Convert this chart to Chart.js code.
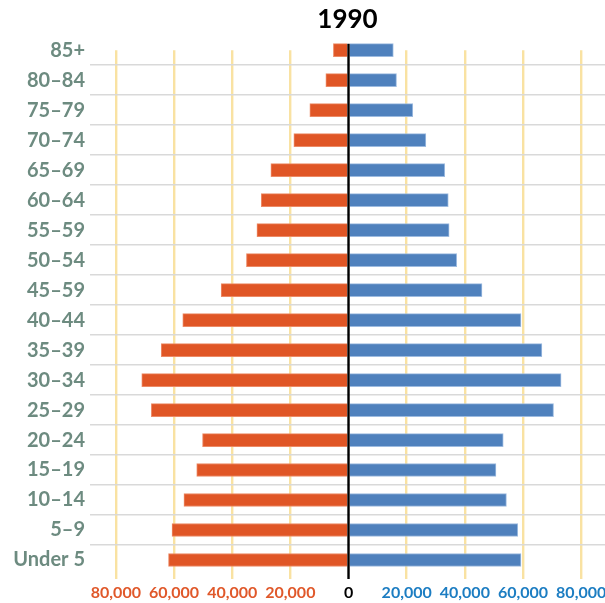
<!DOCTYPE html>
<html>
<head>
<meta charset="utf-8">
<script src="https://cdn.jsdelivr.net/npm/chart.js@4/dist/chart.umd.min.js"></script>
<style>
html,body{margin:0;padding:0;background:#fff;overflow:hidden;}
canvas{display:block;}
</style>
</head>
<body>
<canvas id="c" width="605" height="603"></canvas>
<script>
const title = "1990";
const ageGroups = ["85+","80–84","75–79","70–74","65–69","60–64","55–59","50–54","45–59","40–44","35–39","30–34","25–29","20–24","15–19","10–14","5–9","Under 5"];
const males   = [-5200,-7800,-13300,-18800,-26700,-30000,-31500,-35100,-43800,-57000,-64400,-71100,-67800,-50200,-52200,-56600,-60700,-61900];
const females = [15400,16500,22100,26600,33100,34300,34600,37200,45900,59300,66500,73100,70500,53200,50700,54300,58200,59300];
const xTicks = [-80000,-60000,-40000,-20000,0,20000,40000,60000,80000];
const xMin = -88900, xMax = 88200;

const BAR = 13;
const zeroLine = {
  id: 'zeroLine',
  afterDatasetsDraw(chart) {
    const xs = chart.scales.x, ys = chart.scales.y;
    const x = xs.getPixelForValue(0);
    const top = ys.getPixelForValue(0) - BAR / 2;
    const bottom = ys.bottom + 19;
    const ctx = chart.ctx;
    ctx.save();
    ctx.strokeStyle = '#000';
    ctx.lineWidth = 2.4;
    ctx.beginPath();
    ctx.moveTo(x, top);
    ctx.lineTo(x, bottom);
    ctx.stroke();
    ctx.restore();
  }
};

new Chart(document.getElementById('c'), {
  type: 'bar',
  data: {
    labels: ageGroups,
    datasets: [
      { label: 'Male', data: males, backgroundColor: '#e05626', borderColor: '#ec8a66', borderWidth: 1, barThickness: BAR, clip: false },
      { label: 'Female', data: females, backgroundColor: '#4f81bd', borderColor: '#9dbbe0', borderWidth: 1, barThickness: BAR, clip: false }
    ]
  },
  options: {
    responsive: false,
    animation: false,
    indexAxis: 'y',
    layout: { padding: { left: 0, right: 0, top: 0, bottom: 2 } },
    plugins: {
      legend: { display: false },
      tooltip: { enabled: false },
      title: {
        display: true,
        text: title,
        fullSize: false,
        color: '#000',
        font: { family: 'Lato', size: 26, weight: 'bold' },
        padding: { top: 4, bottom: 15 }
      }
    },
    scales: {
      x: {
        stacked: true,
        min: xMin,
        max: xMax,
        afterBuildTicks(scale) { scale.ticks = xTicks.map(v => ({ value: v })); },
        afterFit(scale) { scale.height = 41; scale.paddingLeft = 0; scale.paddingRight = 0; },
        border: { display: false },
        grid: {
          color: ctx => (ctx.tick && ctx.tick.value === 0) ? 'rgba(0,0,0,0)' : '#f9e2a2',
          lineWidth: 2.4,
          drawTicks: true,
          tickLength: 19
        },
        ticks: {
          padding: 4,
          autoSkip: false,
          maxRotation: 0,
          font: { family: 'Lato', size: 16, weight: 'bold' },
          color: ctx => ctx.tick.value < 0 ? '#e0582a' : (ctx.tick.value > 0 ? '#1c7dc2' : '#000'),
          callback: v => Math.abs(v).toLocaleString('en-US')
        }
      },
      y: {
        stacked: true,
        offset: false,
        afterFit(scale) { scale.width = 90; scale.paddingTop = 0; scale.paddingBottom = 0; },
        border: { display: false },
        grid: { color: '#d9d9d9', lineWidth: 1.6, drawTicks: false },
        ticks: {
          padding: 5,
          autoSkip: false,
          font: { family: 'Lato', size: 20, weight: 'bold' },
          color: '#6d8b80'
        }
      }
    }
  },
  plugins: [zeroLine]
});
</script>
</body>
</html>
